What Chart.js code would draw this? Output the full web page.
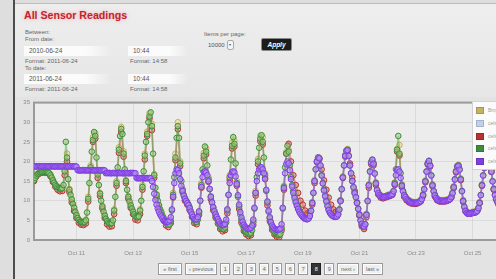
<!DOCTYPE html>
<html>
<head>
<meta charset="utf-8">
<script src="https://cdn.jsdelivr.net/npm/chart.js@4/dist/chart.umd.min.js"></script>
<style>
html, body { margin: 0; padding: 0; }
body { width: 496px; height: 279px; overflow: hidden; position: relative; background: #dedede; font-family: "Liberation Sans", Arial, sans-serif; color: #5a5a5a; }
.abs { position: absolute; white-space: nowrap; }
#vline { left: 13px; top: 0; width: 2px; height: 279px; background: #4d4d4d; }
#panel { left: 15px; top: 97px; width: 481px; height: 182px; background: #e3e3e3; }
#head { left: 15px; top: 3px; width: 481px; height: 93px; border-top: 1px solid #bdbdbd; border-bottom: 2px solid #a8a8a8; background: linear-gradient(#eeeeee, #e6e6e6); }
#title { left: 24px; top: 9px; font-size: 10.6px; font-weight: bold; color: #bd2530; text-shadow: 0 0 3px #f5b5b5, 0 0 6px #f7c9c9; }
.lbl { font-size: 6px; color: #666; }
.inp { height: 10px; font-size: 6.5px; line-height: 10px; padding-left: 5px; box-sizing: border-box; color: #555; background: linear-gradient(90deg, #fbfbfb 70%, rgba(251,251,251,0)); }
#sel { left: 208px; top: 40px; width: 32px; height: 9px; font-size: 6px; line-height: 9px; color: #555; }
#sel span { display: inline-block; width: 5px; height: 8px; margin-left: 2px; border: 1px solid #aaa; border-radius: 2px; background: #f4f4f4; vertical-align: middle; font-size: 4px; line-height: 8px; text-align: center; }
#apply { left: 262px; top: 39px; width: 29px; height: 11px; background: #1c1c1c; color: #fff; font-size: 6.5px; font-weight: bold; font-style: italic; line-height: 11px; text-align: center; border-radius: 1px; box-shadow: 0 0 0 1px #888; }
#chart { position: absolute; left: 0; top: 95px; }
#legend { left: 472px; top: 101px; width: 34px; height: 67px; background: #fbfbfb; border: 1px solid #d2d2d2; }
.li { position: absolute; left: 3px; font-size: 5px; color: #a0a0a0; }
.li i { display: inline-block; width: 6px; height: 5px; margin-right: 4px; vertical-align: middle; border: 1px solid rgba(0,0,0,0.15); }
#pager { left: 158px; top: 263px; height: 12px; display: flex; gap: 3px; }
#pager span { display: inline-block; height: 10px; line-height: 10px; font-size: 5.5px; color: #666; text-align: center; border: 1px solid #9a9a9a; background: #efefef; box-shadow: inset 0 0 0 1px #fff; }
#pager span.on { background: #333; color: #fff; border-color: #222; box-shadow: none; }
</style>
</head>
<body>
<div id="vline" class="abs"></div>
<div id="head" class="abs"></div>
<div id="panel" class="abs"></div>

<div id="title" class="abs">All Sensor Readings</div>
<div class="abs lbl" style="left:25px;top:29px">Between:</div>
<div class="abs lbl" style="left:25px;top:36px">From date:</div>
<div class="abs inp" style="left:24px;top:46px;width:88px">2010-06-24</div>
<div class="abs inp" style="left:128px;top:46px;width:60px">10:44</div>
<div class="abs lbl" style="left:25px;top:58px">Format: 2011-06-24</div>
<div class="abs lbl" style="left:130px;top:58px">Format: 14:58</div>
<div class="abs lbl" style="left:25px;top:65px">To date:</div>
<div class="abs inp" style="left:24px;top:74px;width:88px">2011-06-24</div>
<div class="abs inp" style="left:128px;top:74px;width:60px">10:44</div>
<div class="abs lbl" style="left:25px;top:86px">Format: 2011-06-24</div>
<div class="abs lbl" style="left:130px;top:86px">Format: 14:58</div>
<div class="abs lbl" style="left:204px;top:31px">Items per page:</div>
<div id="sel" class="abs">10000<span>&#9662;</span></div>
<div id="apply" class="abs">Apply</div>

<canvas id="chart" width="520" height="165"></canvas>
<div id="legend" class="abs"></div>
<div id="pager" class="abs"></div>

<script>
// day of month where the data starts (Oct 9, 12:00)
var startDay = 9.5;

// hourly readings, one line per day (first line is Oct 9 from noon)
var greenTemp = [
  15.2, 15.8, 16.4, 16.8, 17.0, 17.2, 17.3, 17.3, 17.4, 17.3, 17.3, 17.2,
  17.2, 17.0, 16.5, 15.9, 15.2, 14.6, 14.1, 13.7, 13.4, 13.2, 13.1, 13.0, 13.2, 14.0, 17.5, 25.0, 21.0, 15.5, 12.8, 11.5, 10.3, 9.2, 8.2, 7.2,
  6.3, 5.6, 5.1, 4.7, 4.6, 4.5, 4.5, 4.6, 5.0, 7.0, 10.5, 14.5, 18.5, 22.5, 25.5, 27.5, 26.5, 21.0, 16.7, 14.0, 11.8, 10.0, 8.5, 7.2,
  6.2, 5.4, 4.8, 4.4, 4.2, 4.2, 4.3, 5.0, 7.5, 11.0, 14.5, 18.5, 23.0, 26.5, 28.3, 27.0, 22.0, 18.0, 15.0, 12.8, 11.0, 9.8, 8.8, 8.0,
  7.2, 6.5, 6.0, 5.8, 5.8, 6.0, 7.5, 10.0, 13.5, 17.5, 21.5, 25.0, 27.0, 30.0, 31.5, 32.5, 29.0, 22.0, 16.5, 13.3, 11.5, 10.0, 8.8, 7.8,
  7.0, 6.2, 5.5, 4.9, 4.4, 4.1, 3.9, 4.0, 4.8, 7.5, 11.5, 16.0, 21.0, 26.0, 29.0, 26.0, 19.5, 15.0, 12.8, 11.5, 10.6, 10.0, 9.5, 9.0,
  8.2, 7.3, 6.5, 5.8, 5.0, 4.6, 4.6, 5.2, 7.0, 10.0, 14.0, 18.0, 21.5, 23.8, 22.5, 19.0, 15.5, 13.0, 11.0, 9.5, 8.2, 7.2, 6.3, 5.5,
  4.8, 4.0, 3.4, 3.0, 2.8, 2.8, 3.2, 4.5, 7.5, 11.5, 16.0, 20.5, 24.0, 26.2, 24.5, 19.5, 14.5, 11.0, 8.5, 6.5, 5.0, 3.8, 2.9, 2.3,
  2.0, 1.7, 1.6, 1.6, 1.8, 2.5, 4.5, 8.0, 12.0, 16.0, 20.0, 23.5, 25.8, 26.7, 25.0, 21.0, 16.5, 12.5, 9.5, 7.2, 5.5, 4.2, 3.2, 2.5,
  2.0, 1.6, 1.4, 1.3, 1.3, 1.5, 3.0, 8.0, 13.5, 18.5, 22.0, 24.0, 22.5, 19.0, 16.0, 14.0, 12.5, 11.2, 10.0, 9.0, 8.2, 7.5, 6.9, 6.4,
  6.0, 5.7, 5.5, 5.4, 5.4, 5.6, 6.2, 7.5, 9.5, 12.0, 15.0, 18.0, 20.0, 21.0, 20.8, 19.0, 16.5, 14.5, 12.8, 11.3, 10.0, 8.8, 7.8, 7.0,
  6.6, 6.3, 6.1, 6.0, 6.0, 6.1, 6.6, 7.8, 10.0, 13.0, 16.0, 19.0, 21.5, 22.8, 23.0, 21.5, 19.0, 17.0, 15.0, 13.5, 12.0, 11.0, 9.5, 8.0,
  6.5, 5.0, 4.0, 3.4, 3.3, 4.0, 6.5, 10.0, 14.0, 17.5, 19.8, 20.5, 19.5, 17.0, 14.5, 12.8, 12.0, 11.5, 11.2, 11.0, 11.0, 11.0, 11.0, 11.2,
  11.3, 11.4, 11.5, 11.5, 11.8, 12.5, 14.5, 18.0, 23.0, 26.5, 22.0, 17.0, 14.0, 12.5, 11.5, 11.0, 10.5, 10.2, 10.0, 9.8, 9.6, 9.5, 9.5, 9.5,
  9.5, 9.5, 9.6, 9.8, 10.0, 10.5, 11.5, 13.0, 15.0, 17.5, 19.5, 20.2, 19.0, 16.5, 14.0, 12.5, 11.5, 10.8, 10.4, 10.2, 10.0, 10.0, 10.0, 10.0,
  10.0, 10.0, 10.1, 10.2, 10.3, 10.5, 11.0, 12.0, 13.5, 15.5, 17.5, 18.8, 19.0, 18.0, 15.5, 12.5, 10.0, 8.5, 7.5, 7.0, 6.8, 6.8, 6.8, 6.9,
  7.0, 7.0, 7.1, 7.2, 7.5, 8.2, 9.5, 11.5, 14.0, 16.5, 18.5, 20.0, 21.0, 21.5, 21.0, 19.5, 17.5, 15.0, 13.0, 11.5, 10.5, 9.8, 9.2, 8.8
];

var purpleTemp = [
  18.8, 18.7, 18.8, 18.7, 18.8, 18.8, 18.7, 18.8, 18.7, 18.8, 18.7, 18.8,
  18.7, 18.8, 18.7, 18.8, 18.8, 18.7, 18.8, 18.7, 18.8, 18.7, 18.8, 18.7, 18.8, 18.8, 18.7, 18.8, 18.7, 18.8, 18.7, 18.8, 18.7, 18.8, 18.7, 18.8,
  18.7, 17.8, 17.7, 17.8, 17.7, 17.8, 17.8, 17.7, 17.8, 17.7, 17.8, 17.7, 17.8, 17.8, 17.7, 17.8, 17.7, 17.8, 17.7, 17.8, 17.7, 17.8, 17.7, 17.8,
  17.7, 17.0, 17.1, 17.0, 17.1, 17.0, 17.0, 17.1, 17.0, 17.1, 17.0, 17.0, 17.1, 17.0, 17.1, 17.0, 17.0, 17.1, 17.0, 17.1, 17.0, 17.0, 17.1, 17.0,
  17.1, 17.0, 17.0, 15.8, 15.7, 15.8, 15.7, 15.8, 15.8, 15.7, 15.8, 15.7, 15.8, 15.7, 15.8, 15.7, 15.0, 13.5, 11.8, 10.2, 9.0, 8.0, 7.2, 6.5,
  6.0, 5.5, 5.0, 4.8, 4.6, 4.6, 4.7, 5.0, 5.8, 7.8, 11.0, 14.5, 17.0, 18.0, 17.8, 17.0, 15.5, 13.8, 12.5, 11.3, 10.5, 9.9, 9.4, 8.9,
  8.1, 7.2, 6.5, 5.9, 5.4, 5.2, 5.3, 5.8, 7.3, 10.0, 13.5, 16.0, 17.3, 17.5, 17.2, 16.5, 15.0, 13.0, 11.0, 9.6, 8.4, 7.4, 6.6, 5.9,
  5.3, 4.7, 4.2, 3.9, 3.8, 3.8, 4.1, 5.2, 7.8, 11.5, 14.5, 16.5, 17.3, 17.5, 17.2, 16.2, 14.2, 11.4, 9.0, 7.1, 5.7, 4.7, 3.9, 3.4,
  3.1, 2.9, 2.8, 2.9, 3.1, 3.7, 5.2, 8.2, 12.0, 15.0, 17.0, 18.0, 18.5, 18.5, 18.0, 17.0, 15.5, 12.8, 9.8, 7.5, 5.8, 4.6, 3.7, 3.2,
  2.9, 2.7, 2.6, 2.6, 2.7, 2.9, 4.0, 8.2, 13.2, 17.0, 19.3, 20.0, 19.5, 17.8, 15.5, 13.6, 12.0, 10.7, 9.6, 8.7, 7.9, 7.2, 6.7, 6.3,
  5.9, 5.6, 5.4, 5.3, 5.3, 5.5, 6.1, 7.4, 9.4, 12.0, 15.0, 18.0, 20.0, 21.0, 20.8, 19.0, 16.4, 14.4, 12.6, 11.1, 9.8, 8.6, 7.6, 6.9,
  6.5, 6.2, 6.0, 5.9, 5.9, 6.0, 6.5, 7.7, 9.9, 12.9, 15.9, 19.0, 21.4, 22.7, 22.9, 21.4, 19.0, 17.0, 15.0, 13.4, 11.9, 10.9, 9.4, 7.9,
  6.4, 5.0, 4.1, 3.5, 3.4, 4.0, 6.4, 9.9, 13.9, 17.4, 19.7, 20.4, 19.4, 16.9, 14.4, 12.7, 11.9, 11.4, 11.1, 10.9, 10.9, 10.9, 11.0, 11.1,
  11.2, 11.3, 11.4, 11.4, 11.7, 12.4, 14.2, 16.5, 17.8, 18.0, 17.4, 15.8, 13.8, 12.4, 11.4, 10.9, 10.4, 10.1, 9.9, 9.7, 9.5, 9.4, 9.4, 9.4,
  9.4, 9.4, 9.5, 9.7, 9.9, 10.4, 11.4, 12.9, 14.9, 17.4, 19.4, 20.1, 18.9, 16.4, 13.9, 12.4, 11.4, 10.7, 10.3, 10.1, 9.9, 9.9, 9.9, 9.9,
  9.9, 9.9, 10.0, 10.1, 10.2, 10.4, 10.9, 11.9, 13.4, 15.4, 17.4, 18.7, 18.9, 17.9, 15.4, 12.4, 9.9, 8.4, 7.4, 6.9, 6.7, 6.7, 6.7, 6.8,
  6.9, 6.9, 7.0, 7.1, 7.4, 8.1, 9.4, 11.4, 13.9, 16.4, 18.4, 19.9, 20.9, 21.4, 20.9, 19.4, 17.4, 14.9, 12.9, 11.4, 10.4, 9.7, 9.1, 8.7
];

// two-hourly readings, one line per day (first line is Oct 9 from noon)
var redTemp = [
  15.0, 16.2, 16.8, 17.1, 17.2, 17.1,
  17.0, 16.2, 14.8, 13.6, 12.8, 12.4, 12.5, 16.5, 20.0, 12.2, 9.6, 7.4,
  5.6, 4.4, 3.9, 3.8, 4.2, 9.8, 17.8, 25.0, 25.8, 15.8, 11.2, 8.0,
  5.6, 4.0, 3.4, 3.5, 6.6, 13.8, 22.2, 27.5, 21.2, 14.5, 10.5, 8.2,
  6.6, 5.2, 5.0, 6.6, 12.8, 20.5, 26.5, 31.0, 28.0, 15.8, 10.8, 8.2,
  6.5, 4.9, 3.7, 3.3, 4.3, 10.8, 20.3, 28.2, 18.8, 12.2, 10.0, 9.0,
  7.6, 5.9, 4.3, 4.0, 6.4, 13.3, 20.8, 21.8, 14.8, 10.4, 7.6, 5.7,
  4.2, 2.8, 2.2, 2.5, 6.8, 15.3, 23.3, 23.8, 13.8, 7.9, 4.4, 2.3,
  1.4, 1.0, 1.2, 3.8, 11.3, 19.3, 25.1, 24.3, 15.8, 8.8, 4.8, 2.6,
  1.4, 0.8, 0.7, 2.4, 12.8, 22.0, 24.5, 20.0, 16.5, 14.0, 12.0, 10.0,
  9.0, 7.5, 6.8, 6.8, 9.0, 14.5, 19.8, 20.5, 18.0, 15.2, 12.8, 10.8,
  9.0, 7.8, 7.2, 7.4, 10.0, 15.8, 21.2, 22.6, 19.5, 16.0, 12.5, 9.5,
  6.2, 3.5, 2.8, 5.8, 13.3, 19.3, 19.0, 14.0, 11.6, 10.8, 10.6, 10.8,
  11.0, 11.2, 11.5, 14.0, 22.5, 21.5, 13.5, 11.0, 10.1, 9.6, 9.3, 9.2,
  9.2, 9.4, 9.8, 11.2, 14.7, 19.2, 18.7, 13.7, 11.1, 10.1, 9.8, 9.8,
  9.8, 9.9, 10.2, 10.8, 13.2, 17.2, 18.7, 15.2, 9.7, 7.3, 6.7, 6.7,
  6.9, 7.0, 7.4, 9.4, 13.8, 18.3, 20.8, 20.8, 17.3, 12.8, 10.3, 9.1
];

var tanTemp = [
  15.4, 16.6, 17.1, 17.4, 17.5, 17.4,
  17.3, 16.7, 15.4, 14.3, 13.6, 13.3, 13.4, 18.0, 22.0, 13.0, 10.5, 8.4,
  6.5, 5.2, 4.8, 4.7, 5.2, 11.0, 19.0, 26.2, 27.2, 17.2, 12.0, 8.7,
  6.4, 5.0, 4.4, 4.5, 7.8, 15.0, 23.6, 28.8, 22.6, 15.3, 11.2, 9.0,
  7.4, 6.2, 6.0, 7.8, 14.0, 22.0, 27.6, 32.3, 29.6, 16.8, 11.7, 9.0,
  7.2, 5.7, 4.6, 4.1, 5.0, 12.0, 22.0, 30.0, 20.0, 13.0, 10.8, 9.7,
  8.4, 6.7, 5.2, 4.8, 7.2, 14.5, 22.2, 23.4, 16.0, 11.2, 8.4, 6.5,
  5.0, 3.6, 3.0, 3.4, 7.8, 16.5, 24.8, 25.4, 15.0, 8.7, 5.2, 3.1,
  2.2, 1.8, 2.0, 4.8, 12.5, 20.6, 26.6, 26.2, 17.0, 9.7, 5.7, 3.4,
  2.2, 1.6, 1.5, 3.2, 13.8, 22.4, 23.0, 16.3, 12.8, 10.2, 8.4, 7.1,
  6.2, 5.7, 5.6, 6.4, 9.7, 15.3, 20.2, 21.0, 16.7, 13.0, 10.2, 8.0,
  6.8, 6.3, 6.2, 6.8, 10.2, 16.2, 21.7, 23.2, 19.2, 15.2, 12.2, 9.7,
  6.7, 4.2, 3.5, 6.7, 14.2, 20.0, 19.7, 14.7, 12.2, 11.4, 11.2, 11.2,
  11.5, 11.7, 12.0, 14.7, 23.2, 24.2, 14.2, 11.7, 10.7, 10.2, 9.8, 9.7,
  9.7, 9.8, 10.2, 11.7, 15.2, 19.7, 19.2, 14.2, 11.7, 10.6, 10.2, 10.2,
  10.2, 10.3, 10.5, 11.2, 13.7, 17.7, 19.2, 15.7, 10.2, 7.7, 7.0, 7.0,
  7.2, 7.3, 7.7, 9.7, 14.2, 18.7, 21.2, 21.2, 17.7, 13.2, 10.7, 9.4
];

var blueTemp = [
  18.8, 18.8, 18.8, 18.8, 18.7, 18.7,
  18.7, 18.7, 18.8, 18.8, 18.8, 18.8, 18.8, 18.7, 18.7, 18.7, 18.7, 18.7,
  18.7, 17.7, 17.7, 17.8, 17.8, 17.8, 17.8, 17.7, 17.7, 17.7, 17.7, 17.7,
  17.7, 17.1, 17.1, 17.0, 17.0, 17.0, 17.1, 17.1, 17.0, 17.1, 17.0, 17.1,
  17.1, 17.0, 15.7, 15.7, 15.8, 15.8, 15.8, 15.8, 15.0, 11.8, 9.0, 7.2,
  6.0, 5.0, 4.6, 4.7, 5.8, 11.0, 17.0, 17.8, 15.5, 12.5, 10.5, 9.4,
  8.1, 6.5, 5.4, 5.3, 7.3, 13.5, 17.3, 17.2, 15.0, 11.0, 8.4, 6.6,
  5.3, 4.2, 3.8, 4.1, 7.8, 14.5, 17.3, 17.2, 14.2, 9.0, 5.7, 3.9,
  3.1, 2.8, 3.1, 5.2, 12.0, 17.0, 18.5, 18.0, 15.5, 9.8, 5.8, 3.7,
  2.9, 2.6, 2.7, 4.0, 13.2, 19.3, 19.5, 15.5, 12.0, 9.6, 7.9, 6.7,
  5.9, 5.4, 5.3, 6.1, 9.4, 15.0, 20.0, 20.8, 16.4, 12.6, 9.8, 7.6,
  6.5, 6.0, 5.9, 6.5, 9.9, 15.9, 21.4, 22.9, 19.0, 15.0, 11.9, 9.4,
  6.4, 4.1, 3.4, 6.4, 13.9, 19.7, 19.4, 14.4, 11.9, 11.1, 10.9, 11.0,
  11.2, 11.4, 11.7, 14.2, 17.8, 17.4, 13.8, 11.4, 10.4, 9.9, 9.5, 9.4,
  9.4, 9.5, 9.9, 11.4, 14.9, 19.4, 18.9, 13.9, 11.4, 10.3, 9.9, 9.9,
  9.9, 10.0, 10.2, 10.9, 13.4, 17.4, 18.9, 15.4, 9.9, 7.4, 6.7, 6.7,
  6.9, 7.0, 7.4, 9.4, 13.9, 18.4, 20.9, 20.9, 17.4, 12.9, 10.4, 9.1
];

var seriesNames = ['Bmp085 temp', 'celsius 1', 'celsius 2', 'celsius 3', 'celsius 4'];
var xTickDays = [11, 13, 15, 17, 19, 21, 23, 25];
var yTicks = [0, 5, 10, 15, 20, 25, 30, 35];
var pages = ['\u00ab first', '\u2039 previous', '1', '2', '3', '4', '5', '6', '7', '8', '9', 'next \u203a', 'last \u00bb'];
var currentPage = '8';

//turn a list of readings into points, step is in hours
function toPoints(values, step){
    var pts = [];
    for(var i = 0; i < values.length; i++){
        pts.push({x: startDay + i * step / 24, y: values[i]});
    }
    return pts;
}

function makeSet(label, values, step, ring, fill, trail){
    return {
        label: label,
        data: toPoints(values, step),
        showLine: true,
        borderColor: trail,
        borderWidth: 1.6,
        pointRadius: 2.8,
        pointBorderWidth: 1,
        pointBorderColor: ring,
        pointBackgroundColor: fill,
        swatch: ring
    };
}

//first one is drawn on top
var datasets = [
    makeSet(seriesNames[4], purpleTemp, 1, 'rgb(128, 62, 226)', 'rgba(182, 142, 250, 0.6)', 'rgba(150, 95, 240, 0.55)'),
    makeSet(seriesNames[3], greenTemp, 1, 'rgb(62, 140, 64)', 'rgba(155, 208, 125, 0.6)', 'rgba(95, 170, 90, 0.55)'),
    makeSet(seriesNames[2], redTemp, 2, 'rgb(180, 50, 50)', 'rgba(225, 125, 112, 0.55)', 'rgba(200, 80, 75, 0.5)'),
    makeSet(seriesNames[0], tanTemp, 2, 'rgb(196, 178, 95)', 'rgba(232, 220, 150, 0.55)', 'rgba(215, 200, 120, 0.5)'),
    makeSet(seriesNames[1], blueTemp, 2, 'rgb(192, 210, 234)', 'rgba(226, 236, 250, 0.55)', 'rgba(205, 220, 240, 0.5)')
];

//plot background and frame
var plotFrame = {
    id: 'plotFrame',
    beforeDraw: function(chart){
        var a = chart.chartArea, ctx = chart.ctx;
        ctx.save();
        ctx.fillStyle = '#ececec';
        ctx.fillRect(a.left, a.top, a.right - a.left, a.bottom - a.top);
        ctx.restore();
    },
    beforeDatasetsDraw: function(chart){
        var a = chart.chartArea, ctx = chart.ctx;
        ctx.save();
        ctx.strokeStyle = '#9a9a9a';
        ctx.lineWidth = 2;
        ctx.strokeRect(a.left, a.top, a.right - a.left + 4, a.bottom - a.top);
        ctx.restore();
    }
};

var ctx = document.getElementById('chart').getContext('2d');
var chart = new Chart(ctx, {
    type: 'scatter',
    data: { datasets: datasets },
    options: {
        responsive: false,
        animation: false,
        events: [],
        layout: { padding: { top: 5, right: 0, bottom: 0, left: 0 } },
        plugins: { legend: { display: false }, tooltip: { enabled: false } },
        scales: {
            x: {
                type: 'linear',
                min: 9.5,
                max: 26.5,
                afterBuildTicks: function(scale){
                    scale.ticks = xTickDays.map(function(d){ return {value: d}; });
                },
                afterFit: function(scale){ scale.height = 20; },
                grid: { color: 'rgba(0,0,0,0.07)', drawTicks: false },
                border: { display: false },
                ticks: {
                    autoSkip: false,
                    maxRotation: 0,
                    padding: 10,
                    color: '#8a8a8a',
                    font: { size: 6, family: 'Liberation Sans' },
                    callback: function(v){ return 'Oct ' + v; }
                }
            },
            y: {
                min: 0,
                max: 35,
                afterBuildTicks: function(scale){
                    scale.ticks = yTicks.map(function(v){ return {value: v}; });
                },
                afterFit: function(scale){ scale.width = 34; },
                grid: { color: 'rgba(0,0,0,0.07)', drawTicks: false },
                border: { display: false },
                ticks: {
                    padding: 4,
                    color: '#8a8a8a',
                    font: { size: 6, family: 'Liberation Sans' }
                }
            }
        }
    },
    plugins: [plotFrame]
});

//legend box, same order as the original page
var legendOrder = [3, 4, 2, 1, 0];
var legendTops = [6, 19, 32, 44, 57];
var legendEl = document.getElementById('legend');
for(var i = 0; i < legendOrder.length; i++){
    var ds = datasets[legendOrder[i]];
    var item = document.createElement('div');
    item.className = 'li';
    item.style.top = (legendTops[i] - 1) + 'px';
    item.innerHTML = '<i style="background:' + ds.swatch + '"></i>' + ds.label;
    legendEl.appendChild(item);
}

//pager buttons
var pagerEl = document.getElementById('pager');
for(var p = 0; p < pages.length; p++){
    var b = document.createElement('span');
    b.textContent = pages[p];
    b.style.width = (pages[p].length > 1 ? pages[p].length * 2.6 + 4 : 8) + 'px';
    if(pages[p] == currentPage){ b.className = 'on'; }
    pagerEl.appendChild(b);
}
</script>
</body>
</html>
